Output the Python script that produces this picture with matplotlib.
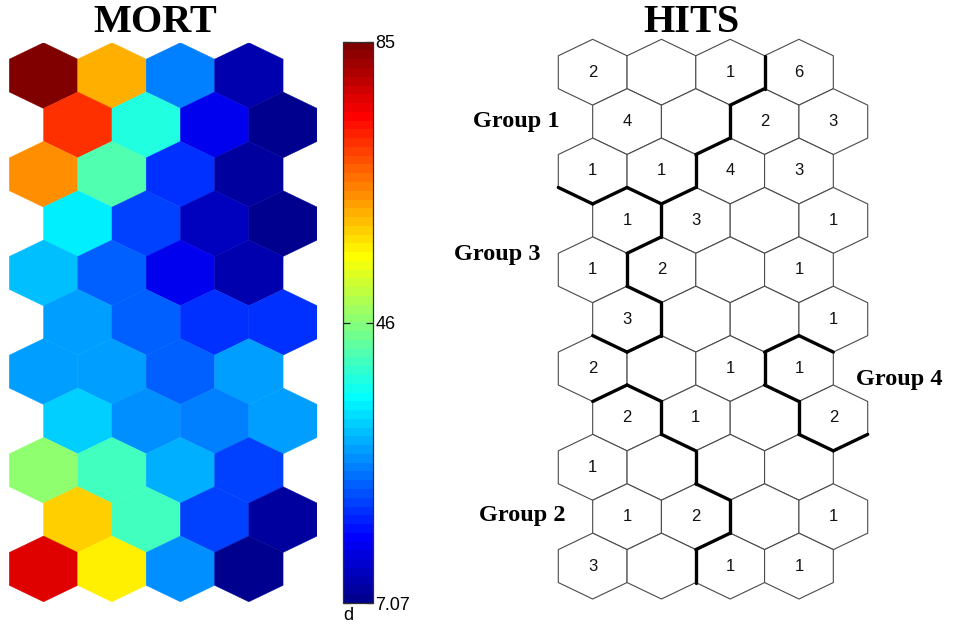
import numpy as np
import matplotlib
matplotlib.use("Agg")
import matplotlib.pyplot as plt
from matplotlib.collections import PolyCollection, LineCollection
from matplotlib.colors import ListedColormap, Normalize
from matplotlib.cm import ScalarMappable

# ---------------- data ----------------
n_rows, n_cols = 11, 4

# MORT component plane (row 0 = top row)
mort = [
    [85.0, 61.3, 25.9, 10.1],
    [71.0, 38.1, 15.0, 7.5],
    [63.5, 41.8, 19.9, 9.0],
    [34.5, 21.0, 11.3, 7.5],
    [30.8, 23.5, 15.0, 10.1],
    [28.4, 23.5, 19.9, 19.9],
    [28.4, 28.4, 23.5, 28.4],
    [32.0, 27.2, 25.9, 28.4],
    [46.6, 40.5, 29.6, 21.0],
    [58.8, 40.5, 21.0, 9.0],
    [77.1, 56.4, 27.2, 7.5],
]
mort_min, mort_max = 7.07, 85.0
cbar_ticks = [7.07, 46, 85]
cbar_ticklabels = ["7.07", "46", "85"]
cbar_label = "d"

# HITS (0 = no hit shown)
hits = [
    [2, 0, 1, 6],
    [4, 0, 2, 3],
    [1, 1, 4, 3],
    [1, 3, 0, 1],
    [1, 2, 0, 1],
    [3, 0, 0, 1],
    [2, 0, 1, 1],
    [2, 1, 0, 2],
    [1, 0, 0, 0],
    [1, 2, 0, 1],
    [3, 0, 1, 1],
]

# group membership of each map unit (0 = no group)
groups = [
    [1, 1, 1, 0],
    [1, 1, 0, 0],
    [1, 1, 0, 0],
    [3, 0, 0, 0],
    [3, 0, 0, 0],
    [3, 0, 0, 0],
    [0, 0, 0, 4],
    [2, 0, 0, 4],
    [2, 2, 0, 0],
    [2, 2, 0, 0],
    [2, 2, 0, 0],
]
# outer-border edges that are part of a drawn group boundary: (row, col, edge)
extra_border_edges = [(2, 0, 3), (7, 3, 2)]

group_names = ["Group 1", "Group 3", "Group 4", "Group 2"]
titles = ["MORT", "HITS"]

# ---------------- helpers ----------------
W, H = 957, 626
R = 1.0 / np.sqrt(3.0)
DY = np.sqrt(0.75)
offsets = np.array([(0, -R), (0.5, -R / 2), (0.5, R / 2), (0, R), (-0.5, R / 2), (-0.5, -R / 2)])


def center(r, c):
    return c + 0.5 * (r % 2), r * DY


def hex_verts(r, c):
    cx, cy = center(r, c)
    return offsets + np.array([cx, cy])


def neighbor(r, c, e):
    if e == 1:
        return r, c + 1
    if e == 4:
        return r, c - 1
    odd = r % 2
    if e == 0:
        return r - 1, c + odd
    if e == 5:
        return r - 1, c - 1 + odd
    if e == 2:
        return r + 1, c + odd
    if e == 3:
        return r + 1, c - 1 + odd


def matlab_jet(m=64):
    n = int(np.ceil(m / 4))
    u = np.concatenate([np.arange(1, n + 1) / n, np.ones(n - 1), np.arange(n, 0, -1) / n])
    g = int(np.ceil(n / 2)) - (1 if m % 4 == 1 else 0) + np.arange(1, len(u) + 1)
    r = g + n
    b = g - n
    g = g[g <= m]
    r = r[r <= m]
    b = b[b >= 1]
    J = np.zeros((m, 3))
    J[r - 1, 0] = u[: len(r)]
    J[g - 1, 1] = u[: len(g)]
    J[b - 1, 2] = u[len(u) - len(b):]
    return J


def px_axes(fig, x0, y0, x1, y1):
    return fig.add_axes([x0 / W, 1 - y1 / H, (x1 - x0) / W, (y1 - y0) / H])


cmap = ListedColormap(matlab_jet(64))
norm = Normalize(mort_min, mort_max)

fig = plt.figure(figsize=(W / 100, H / 100), dpi=100)
fig.patch.set_facecolor("white")

xlim = (-0.5, n_cols)
ylim = ((n_rows - 1) * DY + R, -R)

# ---------------- MORT ----------------
ax1 = px_axes(fig, 9.3, 42.7, 317.3, 601.8)
polys, vals = [], []
for r in range(n_rows):
    for c in range(n_cols):
        polys.append(hex_verts(r, c))
        vals.append(mort[r][c])
pc = PolyCollection(polys, array=np.array(vals), cmap=cmap, norm=norm,
                    edgecolors="face", linewidths=0.3)
ax1.add_collection(pc)
ax1.set_xlim(*xlim)
ax1.set_ylim(*ylim)
ax1.axis("off")

# colorbar
cax = px_axes(fig, 342.7, 41.7, 372.7, 603.0)
cb = fig.colorbar(ScalarMappable(norm=norm, cmap=cmap), cax=cax)
cb.set_ticks(cbar_ticks)
cb.set_ticklabels(cbar_ticklabels)
cb.outline.set_linewidth(0.9)
cb.outline.set_edgecolor("#303030")
cax.tick_params(axis="y", direction="in", length=5, width=0.9, color="#202020",
                left=True, right=True, labelleft=False, labelright=True,
                labelsize=13, pad=2)
for t in cax.get_yticklabels():
    t.set_fontfamily("Liberation Sans")
fig.text(348 / W, 1 - 616 / H, cbar_label, ha="center", va="center",
         fontsize=13, family="Liberation Sans")

# ---------------- HITS ----------------
ax2 = px_axes(fig, 558.3, 39.3, 867.7, 599.0)
polys = [hex_verts(r, c) for r in range(n_rows) for c in range(n_cols)]
pc2 = PolyCollection(polys, facecolors="white", edgecolors="#4a4a4a", linewidths=0.8)
pc2.set_clip_on(False)
ax2.add_collection(pc2)

thick = []
for r in range(n_rows):
    for c in range(n_cols):
        v = hex_verts(r, c)
        for e in range(6):
            nr, nc = neighbor(r, c, e)
            if 0 <= nr < n_rows and 0 <= nc < n_cols:
                if groups[nr][nc] != groups[r][c] and (nr, nc) > (r, c):
                    thick.append([v[e], v[(e + 1) % 6]])
for (r, c, e) in extra_border_edges:
    v = hex_verts(r, c)
    thick.append([v[e], v[(e + 1) % 6]])
lc = LineCollection(thick, colors="black", linewidths=2.4, capstyle="round")
lc.set_clip_on(False)
ax2.add_collection(lc)

for r in range(n_rows):
    for c in range(n_cols):
        if hits[r][c]:
            cx, cy = center(r, c)
            ax2.text(cx, cy, str(hits[r][c]), ha="center", va="center",
                     fontsize=12, family="Liberation Sans", color="#111111")
ax2.set_xlim(*xlim)
ax2.set_ylim(*ylim)
ax2.axis("off")

# ---------------- titles & group labels ----------------
fig.text(155 / W, 1 - 32.3 / H, titles[0], ha="center", va="baseline",
         fontsize=29, fontweight="bold", family="Liberation Serif")
fig.text(691 / W, 1 - 31.7 / H, titles[1], ha="center", va="baseline",
         fontsize=29, fontweight="bold", family="Liberation Serif")

label_pos = [(516, 127), (497, 260), (899, 385), (522, 521)]
for name, (x, y) in zip(group_names, label_pos):
    fig.text(x / W, 1 - y / H, name, ha="center", va="baseline",
             fontsize=17.5, fontweight="bold", family="Liberation Serif")

fig.savefig("out.png", dpi=100, facecolor="white")
